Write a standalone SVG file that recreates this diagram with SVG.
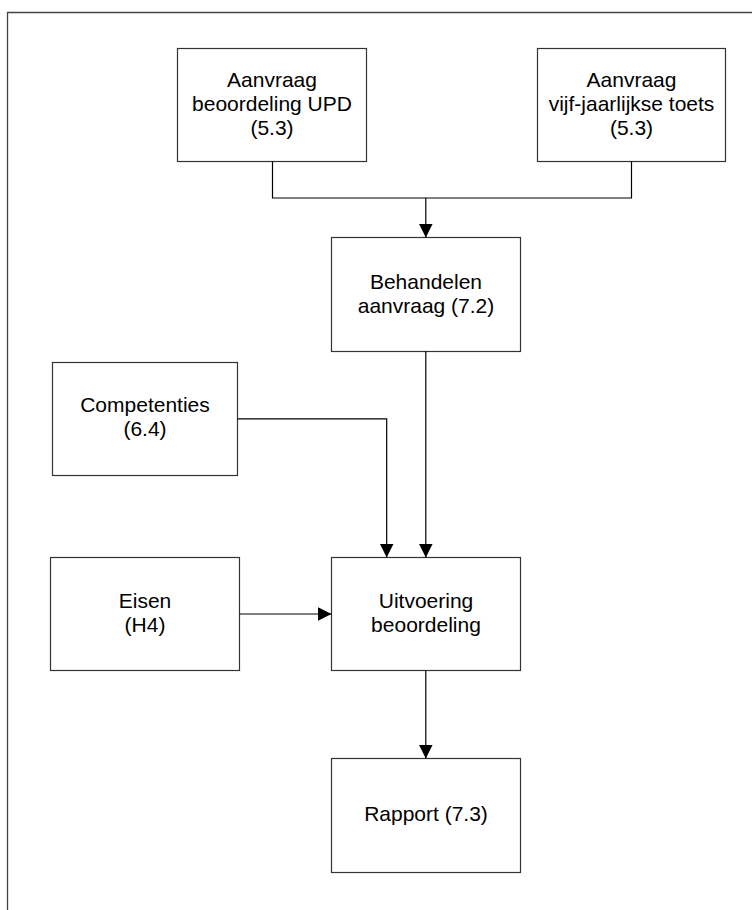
<svg xmlns="http://www.w3.org/2000/svg" width="752" height="910" viewBox="0 0 752 910">
<style>
.box{fill:#fff;stroke:#333;stroke-width:1.2}
.t{font-family:"Liberation Sans",Arial,sans-serif;font-size:21px;fill:#000;text-anchor:middle}
.c{fill:none;stroke:#000;stroke-width:1.2}
.frame{fill:none;stroke:#444;stroke-width:1.3}
</style>
<defs>
<marker id="arr" markerUnits="userSpaceOnUse" markerWidth="14" markerHeight="14" refX="14" refY="7" orient="auto">
<path d="M0,0 L14,7 L0,14 Z" fill="#000"/>
</marker>
</defs>
<rect width="752" height="910" fill="#fff"/>
<path class="frame" d="M7.5,910 V12.5 H752"/>
<g id="n1">
<rect class="box" x="177.5" y="48.5" width="189" height="113"/>
<text class="t" x="272" y="87">Aanvraag</text>
<text class="t" x="272" y="111">beoordeling UPD</text>
<text class="t" x="272" y="135">(5.3)</text>
</g>
<g id="n2">
<rect class="box" x="537.5" y="48.5" width="188" height="113"/>
<text class="t" x="631.5" y="87">Aanvraag</text>
<text class="t" x="631.5" y="111">vijf-jaarlijkse toets</text>
<text class="t" x="631.5" y="135">(5.3)</text>
</g>
<g id="n3">
<rect class="box" x="331.5" y="237.5" width="189" height="114"/>
<text class="t" x="426" y="289">Behandelen</text>
<text class="t" x="426" y="313">aanvraag (7.2)</text>
</g>
<g id="n4">
<rect class="box" x="52.5" y="362.5" width="185" height="113"/>
<text class="t" x="145" y="412">Competenties</text>
<text class="t" x="145" y="436">(6.4)</text>
</g>
<g id="n5">
<rect class="box" x="50.5" y="557.5" width="189" height="113"/>
<text class="t" x="145" y="608">Eisen</text>
<text class="t" x="145" y="632">(H4)</text>
</g>
<g id="n6">
<rect class="box" x="331.5" y="557.5" width="189" height="113"/>
<text class="t" x="426" y="608">Uitvoering</text>
<text class="t" x="426" y="632">beoordeling</text>
</g>
<g id="n7">
<rect class="box" x="331.5" y="758.5" width="189" height="114"/>
<text class="t" x="426" y="821">Rapport (7.3)</text>
</g>
<g id="connectors">
<path class="c" d="M272.5,161.5 V198 H631.5 V161.5"/>
<path class="c" d="M425.8,198 V237.5" marker-end="url(#arr)"/>
<path class="c" d="M237.5,418.8 H386.7 V557.5" marker-end="url(#arr)"/>
<path class="c" d="M425.8,351.5 V557.5" marker-end="url(#arr)"/>
<path class="c" d="M239.5,614 H331.5" marker-end="url(#arr)"/>
<path class="c" d="M425.8,670.5 V758.5" marker-end="url(#arr)"/>
</g>
</svg>
